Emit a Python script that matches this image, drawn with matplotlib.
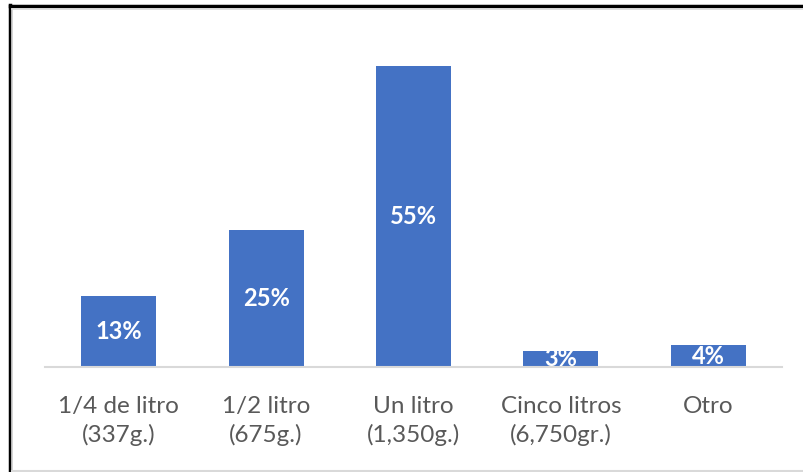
import matplotlib.pyplot as plt
from matplotlib.lines import Line2D

categorias = ['1/4 de litro\n(337g.)', '1/2 litro\n(675g.)', 'Un litro\n(1,350g.)',
              'Cinco litros\n(6,750gr.)', 'Otro']
porcentajes = [13, 25, 55, 3, 4]

plt.rcParams['font.family'] = ['Lato', 'DejaVu Sans']

fig = plt.figure(figsize=(8.04, 4.72), dpi=100)
ax = fig.add_axes([45 / 804, 1 - 367 / 472, (782 - 45) / 804, 328 / 472])

x = range(len(categorias))
bars = ax.bar(x, porcentajes, width=0.51, color='#4472C4')
for b, v in zip(bars, porcentajes):
    ax.text(b.get_x() + b.get_width() / 2, v / 2, f'{v}%', ha='center', va='center',
            color='white', fontsize=17, fontweight='bold')

ax.set_xlim(-0.5, len(categorias) - 0.5)
ax.set_ylim(0, 60)
ax.set_xticks(list(x))
ax.set_xticklabels(categorias, fontsize=17.5, color='#595959', linespacing=1.4)
ax.tick_params(axis='x', length=0, pad=21)
ax.set_yticks([])
for s in ['top', 'right', 'left']:
    ax.spines[s].set_visible(False)
ax.spines['bottom'].set_color('#D9D9D9')
ax.spines['bottom'].set_linewidth(1.5)

# marco de la imagen
fig.add_artist(Line2D([10 / 804, 10 / 804], [0, 1 - 5 / 472], color='black', lw=2.5))
fig.add_artist(Line2D([10 / 804, 1], [1 - 6 / 472, 1 - 6 / 472], color='black', lw=2.5))
fig.add_artist(Line2D([12.5 / 804, 1], [1 - 8.5 / 472, 1 - 8.5 / 472], color='#D9D9D9', lw=1.2))
fig.add_artist(Line2D([12.5 / 804, 12.5 / 804], [0, 1 - 8.5 / 472], color='#D9D9D9', lw=1.2))
fig.add_artist(Line2D([12 / 804, 1], [1.5 / 472, 1.5 / 472], color='#D9D9D9', lw=1.5))

fig.savefig('out.png', dpi=100)
